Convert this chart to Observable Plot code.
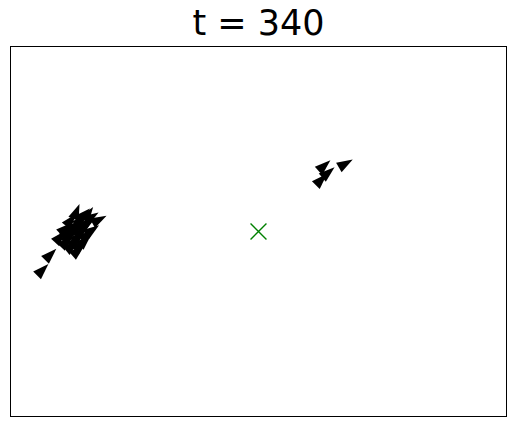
<!DOCTYPE html>
<html><head><meta charset="utf-8">
<script src="https://cdn.jsdelivr.net/npm/d3@7"></script>
<script src="https://cdn.jsdelivr.net/npm/@observablehq/plot@0.6"></script>
<style>body{margin:0;background:#fff}</style>
</head><body><div id="chart"></div>
<script>
const title = "t = 340";
// boid positions (data units) and heading (degrees clockwise from north)
const boidX = [-39.92,-38.85,-37.76,-36.69,-36.29,-34.88,-33.47,-32.06,-38.71,-37.52,-36.33,-35.14,-37.50,-36.21,-34.90,-33.61,-38.10,-36.90,-35.69,-36.90,-35.69,-34.27,-35.89,-34.48,-38.31,-34.27,-41.9,-43.5,13.3,14.1,12.7,17.6];
const boidY = [-1.01,0.67,2.36,4.03,-3.83,-1.75,0.34,2.42,-1.96,-0.14,1.69,3.49,-2.88,-0.95,1.01,2.96,-1.01,0.81,2.42,-1.81,0.00,1.81,-2.62,-0.60,0.20,3.63,-4.6,-7.7,13.3,11.9,10.5,13.7];
const boidAngle = [42,48,40,22,50,46,55,62,44,50,38,45,52,47,53,58,45,49,44,41,48,57,43,47,39,35,45,45,48,50,45,60];
const centerX = [0];
const centerY = [0];

const boids = boidX.map((x, i) => ({x, y: boidY[i], a: boidAngle[i]}));

const chart = Plot.plot({
  width: 515,
  height: 426,
  marginLeft: 10,
  marginRight: 9,
  marginTop: 46,
  marginBottom: 10,
  x: {domain: [-50, 50], axis: null},
  y: {domain: [-37.3, 37.3], axis: null},
  style: {fontFamily: "DejaVu Sans", background: "white", overflow: "visible"},
  marks: [
    Plot.frame({stroke: "black", strokeWidth: 1}),
    Plot.vector(boids, {x: "x", y: "y", rotate: "a", length: 16, r: 5.5, shape: "spike", anchor: "middle", fill: "black", stroke: "none"}),
    Plot.dot(centerX.map((x, i) => ({x, y: centerY[i]})), {x: "x", y: "y", symbol: "times", r: 7.3, stroke: "green", strokeWidth: 1.4}),
    Plot.text([title], {frameAnchor: "top", text: d => d, dy: -12, fontSize: 35, fill: "black", lineAnchor: "bottom"})
  ]
});
document.getElementById("chart").appendChild(chart);
</script>
</body></html>
